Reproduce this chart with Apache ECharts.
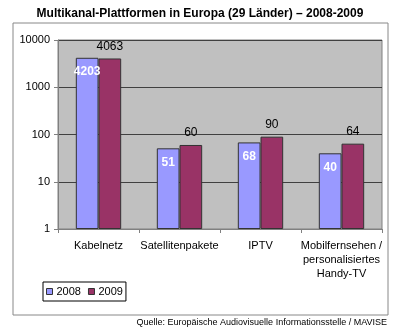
<!DOCTYPE html>
<html><head><meta charset="utf-8">
<script src="https://cdn.jsdelivr.net/npm/echarts@6/dist/echarts.min.js"></script>
<style>html,body{margin:0;padding:0;background:#fff}#c{width:400px;height:334px}</style>
</head><body><div id="c"></div>
<script>
const categories = ['Kabelnetz', 'Satellitenpakete', 'IPTV', 'Mobilfernsehen /\npersonalisiertes\nHandy-TV'];
const values2008 = [4203, 51, 68, 40];
const values2009 = [4063, 60, 90, 64];
const seriesNames = ['2008', '2009'];
const yTicks = [1, 10, 100, 1000, 10000];

const chart = echarts.init(document.getElementById('c'), null, {renderer: 'canvas'});
const font = 'Liberation Sans, Arial, sans-serif';
chart.setOption({
  animation: false,
  backgroundColor: '#fff',
  title: {
    text: 'Multikanal-Plattformen in Europa (29 Länder) – 2008-2009',
    left: 'center', top: 3,
    textStyle: {fontFamily: font, fontSize: 12, fontWeight: 'bold', color: '#000'}
  },
  graphic: [
    {type: 'rect', shape: {x: 13, y: 23, width: 375, height: 292}, style: {fill: 'none', stroke: '#888', lineWidth: 1}, z: -1},
    {type: 'text', right: 13, top: 318, style: {text: 'Quelle: Europäische Audiovisuelle Informationsstelle / MAVISE', font: '9px ' + font, fill: '#000'}}
  ],
  legend: {
    data: seriesNames,
    left: 43, top: 282,
    orient: 'horizontal',
    itemWidth: 6, itemHeight: 6, itemGap: 7,
    padding: [4, 3, 4, 3],
    borderColor: '#000', borderWidth: 1,
    icon: 'rect',
    itemStyle: {borderColor: '#333', borderWidth: 1},
    textStyle: {fontFamily: font, fontSize: 11, color: '#000', padding: [0, 0, 0, -1]}
  },
  grid: {left: 58, right: 18, top: 40, bottom: 105, containLabel: false,
    show: true, backgroundColor: '#C0C0C0', borderColor: '#808080', borderWidth: 1},
  xAxis: {
    type: 'category', data: categories,
    axisLine: {lineStyle: {color: '#808080'}},
    axisTick: {show: true, length: 4, lineStyle: {color: '#808080'}},
    axisLabel: {fontFamily: font, fontSize: 11, color: '#000', lineHeight: 14, margin: 10, interval: 0},
    splitLine: {show: false}
  },
  yAxis: {
    type: 'log', logBase: 10, min: 1, max: 10000,
    axisLine: {show: true, lineStyle: {color: '#808080'}},
    axisTick: {show: true, length: 4, lineStyle: {color: '#808080'}},
    axisLabel: {fontFamily: font, fontSize: 11, color: '#000', margin: 8,
      formatter: v => yTicks.includes(Math.round(v)) ? String(Math.round(v)) : ''},
    splitLine: {show: true, lineStyle: {color: '#404040', width: 1}},
    minorTick: {show: false}
  },
  series: [
    {
      name: seriesNames[0], type: 'bar', data: values2008,
      barGap: '0%', barCategoryGap: '44%',
      itemStyle: {color: '#9999FF', borderColor: '#333', borderWidth: 1},
      label: {show: true, position: 'insideTop', distance: 8, color: '#fff', fontWeight: 'bold', fontFamily: font, fontSize: 12}
    },
    {
      name: seriesNames[1], type: 'bar', data: values2009,
      itemStyle: {color: '#993366', borderColor: '#333', borderWidth: 1},
      label: {show: true, position: 'top', distance: 6, color: '#000', fontFamily: font, fontSize: 12}
    }
  ]
});
</script></body></html>
